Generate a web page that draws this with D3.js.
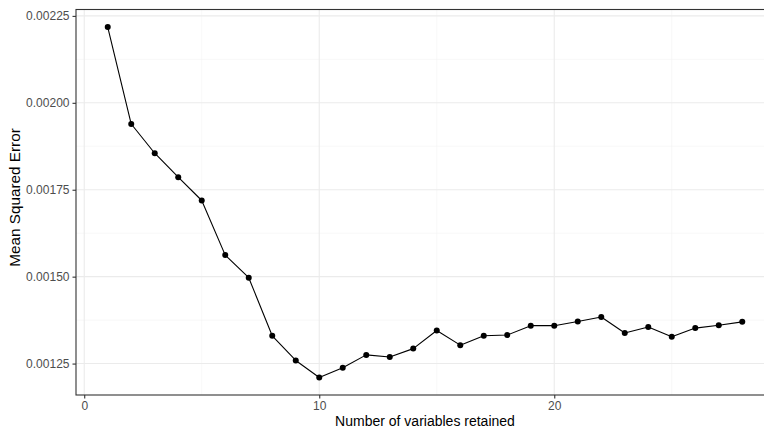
<!DOCTYPE html>
<html><head>
<meta charset="utf-8">
<script src="https://d3js.org/d3.v7.min.js"></script>
<style>
  body { margin: 0; background: #fff; }
  svg text { font-family: "Liberation Sans", Arial, Helvetica, sans-serif; }
</style>
</head>
<body>
<svg id="chart" width="764" height="431"></svg>
<script>
// number of variables retained and the mean squared error
const nVars = [1,2,3,4,5,6,7,8,9,10,11,12,13,14,15,16,17,18,19,20,21,22,23,24,25,26,27,28];
const mse = [0.002218, 0.001939, 0.001855, 0.001786, 0.001719, 0.001562, 0.001497, 0.001330,
             0.001259, 0.001210, 0.001238, 0.001275, 0.001269, 0.001293, 0.001345, 0.001303,
             0.001330, 0.001332, 0.001359, 0.001359, 0.001371, 0.001384, 0.001338, 0.001355,
             0.001327, 0.001352, 0.001360, 0.001370];
const xTicks = [0, 10, 20];
const xMinor = [5, 15, 25];
const yTicks = [0.00125, 0.00150, 0.00175, 0.00200, 0.00225];
const yMinor = [0.001375, 0.001625, 0.001875, 0.002125];

const data = nVars.map((n, i) => ({n: n, v: mse[i]}));

// panel box (right side runs past the picture, like the original)
const pLeft = 76, pRight = 774, pTop = 9.5, pBottom = 395;

// ggplot style 5% expansion
const xExt = d3.extent(nVars), yExt = d3.extent(mse);
const xPad = (xExt[1] - xExt[0]) * 0.05, yPad = (yExt[1] - yExt[0]) * 0.05;
let x = d3.scaleLinear().domain([xExt[0] - xPad, xExt[1] + xPad]).range([pLeft, pRight]);
let y = d3.scaleLinear().domain([yExt[0] - yPad, yExt[1] + yPad]).range([pBottom, pTop]);

let svg = d3.select("#chart");
let grid = svg.append("g");

// minor grid
grid.selectAll("line.xmin").data(xMinor).join("line")
    .attr("x1", d => x(d)).attr("x2", d => x(d))
    .attr("y1", pTop).attr("y2", pBottom)
    .attr("stroke", "#f2f2f2").attr("stroke-width", 0.55);
grid.selectAll("line.ymin").data(yMinor).join("line")
    .attr("y1", d => y(d)).attr("y2", d => y(d))
    .attr("x1", pLeft).attr("x2", pRight)
    .attr("stroke", "#f2f2f2").attr("stroke-width", 0.55);
// major grid
grid.selectAll("line.xmaj").data(xTicks).join("line")
    .attr("x1", d => x(d)).attr("x2", d => x(d))
    .attr("y1", pTop).attr("y2", pBottom)
    .attr("stroke", "#ebebeb").attr("stroke-width", 1.1);
grid.selectAll("line.ymaj").data(yTicks).join("line")
    .attr("y1", d => y(d)).attr("y2", d => y(d))
    .attr("x1", pLeft).attr("x2", pRight)
    .attr("stroke", "#ebebeb").attr("stroke-width", 1.1);

// line + points
svg.append("path").datum(data)
   .attr("fill", "none")
   .attr("stroke", "#000")
   .attr("stroke-width", 1.1)
   .attr("stroke-linejoin", "round")
   .attr("d", d3.line().x(d => x(d.n)).y(d => y(d.v)));

svg.selectAll("circle").data(data).join("circle")
   .attr("cx", d => x(d.n)).attr("cy", d => y(d.v))
   .attr("r", 3).attr("fill", "#000");

// panel border
svg.append("rect")
   .attr("x", pLeft).attr("y", pTop)
   .attr("width", pRight - pLeft).attr("height", pBottom - pTop)
   .attr("fill", "none").attr("stroke", "#333").attr("stroke-width", 1.1);

// axes
let xAxis = svg.append("g").attr("transform", `translate(0,${pBottom})`)
   .call(d3.axisBottom(x).tickValues(xTicks).tickSize(3.5).tickPadding(3).tickFormat(d3.format("d")));
let yAxis = svg.append("g").attr("transform", `translate(${pLeft},0)`)
   .call(d3.axisLeft(y).tickValues(yTicks).tickSize(3.5).tickPadding(3).tickFormat(d3.format(".5f")));

[xAxis, yAxis].forEach(a => {
  a.select(".domain").remove();
  a.attr("fill", "#4d4d4d");
  a.selectAll(".tick line").attr("stroke", "#333").attr("stroke-width", 1.1);
  a.selectAll(".tick text").attr("fill", "#4d4d4d").style("font-size", "12px");
});

// titles
svg.append("text")
   .attr("x", (pLeft + pRight) / 2).attr("y", 426)
   .attr("text-anchor", "middle")
   .style("font-size", "14px")
   .text("Number of variables retained");

svg.append("text")
   .attr("transform", "translate(20,197.5) rotate(-90)")
   .attr("text-anchor", "middle")
   .style("font-size", "15.3px")
   .text("Mean Squared Error");
</script>
</body>
</html>
